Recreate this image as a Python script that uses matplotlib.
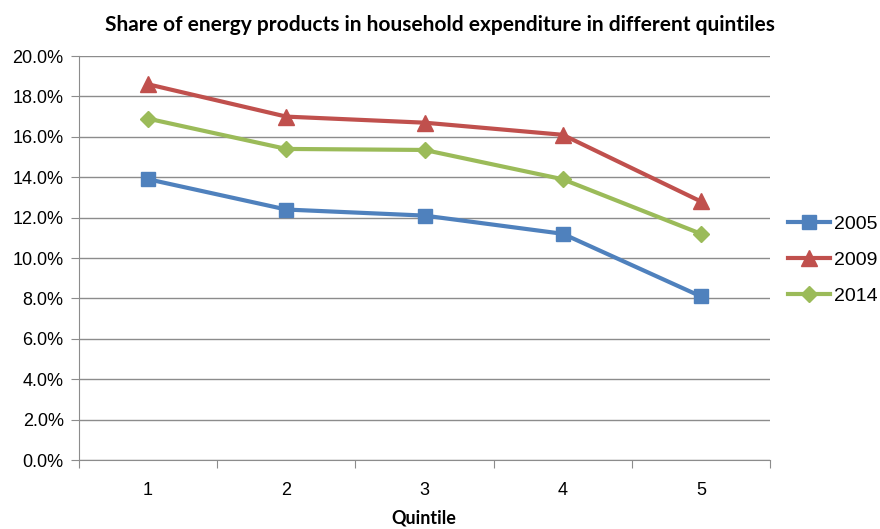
import matplotlib.pyplot as plt
from matplotlib.ticker import FuncFormatter, FixedLocator, NullFormatter

plt.rcParams.update({'font.size': 12, 'font.family': 'sans-serif', 'font.sans-serif': ['Liberation Sans']})

quintiles = [1, 2, 3, 4, 5]
share_2005 = [13.9, 12.4, 12.1, 11.2, 8.1]
share_2009 = [18.6, 17.0, 16.7, 16.1, 12.8]
share_2014 = [16.9, 15.4, 15.35, 13.9, 11.2]

f = plt.figure(figsize=(8.8, 5.29), dpi=100, facecolor='white')
ax = f.add_axes([0.0898, 0.1304, 0.7852, 0.7637])

ax.plot(quintiles, share_2005, color='#4F81BD', lw=3, marker='s', ms=10, label='2005')
ax.plot(quintiles, share_2009, color='#C0504D', lw=3, marker='^', ms=11, label='2009')
ax.plot(quintiles, share_2014, color='#9BBB59', lw=3, marker='D', ms=8, label='2014')

ax.set_xlim(0.5, 5.5)
ax.set_ylim(0, 20)
ax.set_yticks([i * 2 for i in range(11)])
ax.yaxis.set_major_formatter(FuncFormatter(lambda v, p: '{:.1f}%'.format(v)))
ax.yaxis.grid(True, color='#8C8C8C', lw=1)
ax.set_axisbelow(True)

# category ticks between the points, labels at the points
ax.xaxis.set_major_locator(FixedLocator([0.5, 1.5, 2.5, 3.5, 4.5, 5.5]))
ax.xaxis.set_major_formatter(NullFormatter())
ax.xaxis.set_minor_locator(FixedLocator(quintiles))
ax.xaxis.set_minor_formatter(FuncFormatter(lambda v, p: '{:d}'.format(int(round(v)))))
ax.tick_params(axis='x', which='minor', length=0, pad=16, labelsize=13)
ax.tick_params(axis='x', which='major', length=6, color='#8C8C8C', direction='out')
ax.tick_params(axis='y', length=6, color='#8C8C8C', direction='out', labelsize=13, pad=5)

for s in ['top', 'right']:
    ax.spines[s].set_visible(False)
ax.spines['left'].set_color('#8C8C8C')
ax.spines['bottom'].set_color('#8C8C8C')

f.text(0.5, 1 - 25 / 529, 'Share of energy products in household expenditure in different quintiles',
       ha='center', va='center', fontsize=15, fontweight='bold', family='Lato')
f.text(0.4818, 1 - 518 / 529, 'Quintile', ha='center', va='center',
       fontsize=13, fontweight='bold', family='Lato')

ax.legend(loc='center left', bbox_to_anchor=(0.895, 1 - 260 / 529), bbox_transform=f.transFigure,
          frameon=False, fontsize=14, handlelength=2.2, handletextpad=0.2,
          labelspacing=0.95, borderaxespad=0.0, borderpad=0.0)

f.savefig('out.png', dpi=100)
plt.close(f)
